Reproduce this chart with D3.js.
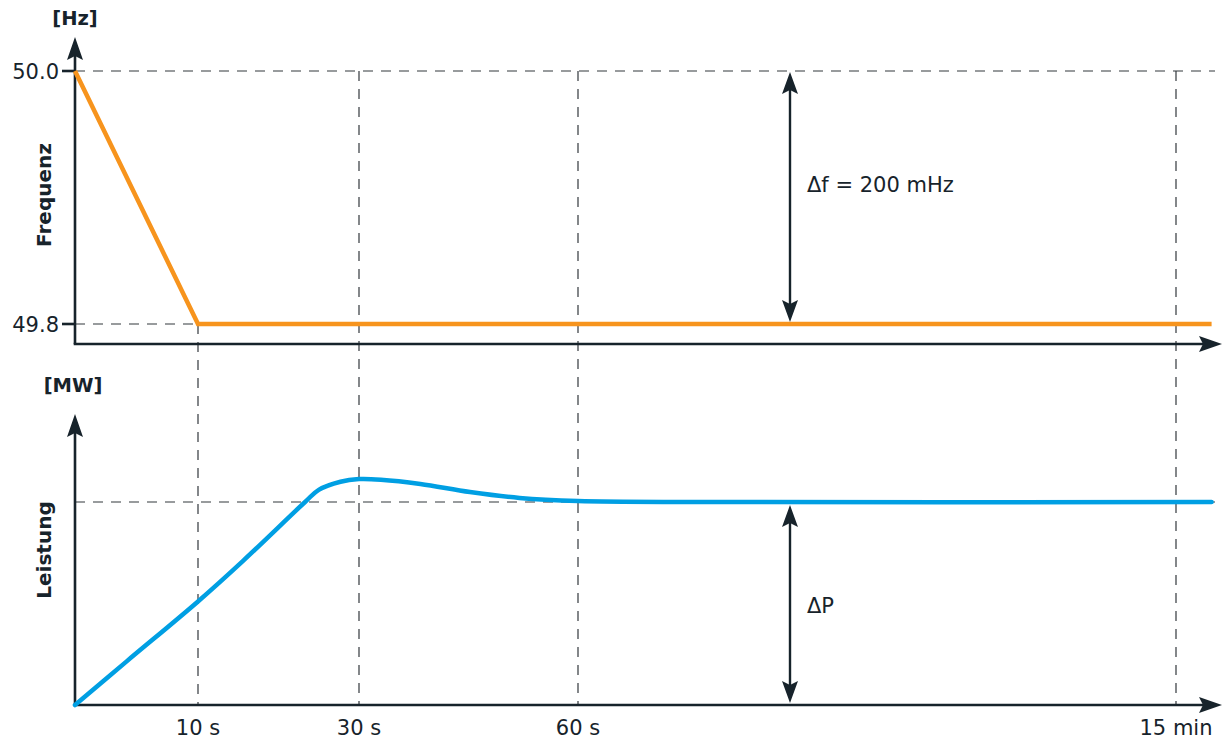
<!DOCTYPE html>
<html><head><meta charset="utf-8">
<script src="https://cdn.jsdelivr.net/npm/d3@7"></script>
<style>html,body{margin:0;padding:0;background:#fff;}svg{display:block;}</style>
</head><body>
<svg id="chart" width="1223" height="742"></svg>
<script>
// ---- data ----
const timeTicks = [10, 30, 60, 900];            // seconds
const timeTickLabels = ["10 s", "30 s", "60 s", "15 min"];
const freqTicks = [50.0, 49.8];
const freqTickLabels = ["50.0", "49.8"];
const freqTime = [0, 10, 950];
const freqValues = [50.0, 49.8, 49.8];
const powerTime = [0, 4.2, 10, 15.6, 23.3, 25, 27.7, 30, 33, 38.4, 45.2, 52, 60, 231, 950];
const powerValues = [0, 0.215, 0.51, 0.71, 1.0, 1.06, 1.10, 1.113, 1.11, 1.089, 1.049, 1.02, 1.005, 1.0, 1.0];
const deltaFLabel = "\u0394f = 200 mHz";
const deltaPLabel = "\u0394P";

const ORANGE = "#f7941d", BLUE = "#009fe3", DARK = "#17232b", DASH = "#33383d";
const FONT = "DejaVu Sans, Verdana, sans-serif";

const svg = d3.select("#chart");

// piecewise (non-linear) time axis
const x = d3.scaleLinear().domain([0, 10, 30, 60, 900]).range([75, 198, 359, 578, 1176]);
const yF = d3.scaleLinear().domain([49.8, 50.0]).range([324, 71]);
const yP = d3.scaleLinear().domain([0, 1]).range([705, 502]);

const topAxisY = 344, botAxisY = 705, axisX = 75, axisEnd = 1222;

// dashed guide lines
const g = svg.append("g").attr("stroke", DASH).attr("stroke-width", 1.2).attr("stroke-dasharray", "10,8").attr("fill", "none");
g.append("line").attr("x1", axisX).attr("x2", 1215).attr("y1", yF(50.0)).attr("y2", yF(50.0));
g.append("line").attr("x1", axisX).attr("x2", x(10)).attr("y1", yF(49.8)).attr("y2", yF(49.8));
g.append("line").attr("x1", axisX).attr("x2", 1215).attr("y1", yP(1)).attr("y2", yP(1));
timeTicks.forEach(t => {
  const top = t === 10 ? yF(49.8) : yF(50.0);
  g.append("line").attr("x1", x(t)).attr("x2", x(t)).attr("y1", top).attr("y2", botAxisY);
});

// axes
function arrowUp(cx, tipY) {
  svg.append("path").attr("d", `M${cx},${tipY} L${cx-8},${tipY+23} L${cx},${tipY+19} L${cx+8},${tipY+23} Z`).attr("fill", DARK);
}
function arrowRight(tipX, cy) {
  svg.append("path").attr("d", `M${tipX},${cy} L${tipX-23},${cy-8} L${tipX-19},${cy} L${tipX-23},${cy+8} Z`).attr("fill", DARK);
}
const ax = svg.append("g").attr("stroke", DARK).attr("stroke-width", 2.6).attr("fill", "none");
ax.append("line").attr("x1", axisX).attr("x2", axisX).attr("y1", topAxisY).attr("y2", 52);
ax.append("line").attr("x1", axisX - 1.3).attr("x2", axisEnd - 10).attr("y1", topAxisY).attr("y2", topAxisY);
ax.append("line").attr("x1", axisX).attr("x2", axisX).attr("y1", botAxisY).attr("y2", 428);
ax.append("line").attr("x1", axisX - 1.3).attr("x2", axisEnd - 10).attr("y1", botAxisY).attr("y2", botAxisY);
arrowUp(axisX, 37);
arrowUp(axisX, 414);
arrowRight(axisEnd, topAxisY);
arrowRight(axisEnd, botAxisY);

// frequency ticks
freqTicks.forEach((v, i) => {
  ax.append("line").attr("x1", 62).attr("x2", axisX).attr("y1", yF(v)).attr("y2", yF(v));
  svg.append("text").attr("x", 59).attr("y", yF(v)).attr("dy", "0.36em").attr("text-anchor", "end")
    .attr("font-family", FONT).attr("font-size", 21).attr("fill", DARK).text(freqTickLabels[i]);
});

// time tick labels
timeTicks.forEach((t, i) => {
  svg.append("text").attr("x", x(t)).attr("y", 735).attr("text-anchor", "middle")
    .attr("font-family", FONT).attr("font-size", 21).attr("fill", DARK).text(timeTickLabels[i]);
});

// unit labels and titles
svg.append("text").attr("x", 75).attr("y", 25).attr("text-anchor", "middle").attr("font-family", FONT)
  .attr("font-weight", "bold").attr("font-size", 19.5).attr("fill", DARK).text("[Hz]");
svg.append("text").attr("x", 73).attr("y", 392).attr("text-anchor", "middle").attr("font-family", FONT)
  .attr("font-weight", "bold").attr("font-size", 19.5).attr("fill", DARK).text("[MW]");
svg.append("text").attr("transform", "translate(51,195) rotate(-90)").attr("text-anchor", "middle").attr("font-family", FONT)
  .attr("font-weight", "bold").attr("font-size", 20).attr("fill", DARK).text("Frequenz");
svg.append("text").attr("transform", "translate(51,550) rotate(-90)").attr("text-anchor", "middle").attr("font-family", FONT)
  .attr("font-weight", "bold").attr("font-size", 20).attr("fill", DARK).text("Leistung");

// series
svg.append("path").datum(freqTime.map((t, i) => [t, freqValues[i]]))
  .attr("d", d3.line().x(d => x(d[0])).y(d => yF(d[1])))
  .attr("fill", "none").attr("stroke", ORANGE).attr("stroke-width", 4.5).attr("stroke-linejoin", "miter");
svg.append("path").datum(powerTime.map((t, i) => [t, powerValues[i]]))
  .attr("d", d3.line().x(d => x(d[0])).y(d => yP(d[1])).curve(d3.curveCatmullRom.alpha(0.5)))
  .attr("fill", "none").attr("stroke", BLUE).attr("stroke-width", 4.5).attr("stroke-linecap", "round");

// double arrows
function doubleArrow(cx, y1, y2) {
  svg.append("line").attr("x1", cx).attr("x2", cx).attr("y1", y1 + 15).attr("y2", y2 - 15).attr("stroke", DARK).attr("stroke-width", 2.4);
  svg.append("path").attr("d", `M${cx},${y1} L${cx-8},${y1+22} L${cx},${y1+18} L${cx+8},${y1+22} Z`).attr("fill", DARK);
  svg.append("path").attr("d", `M${cx},${y2} L${cx-8},${y2-22} L${cx},${y2-18} L${cx+8},${y2-22} Z`).attr("fill", DARK);
}
doubleArrow(790, yF(50.0) + 1, yF(49.8) - 2);
doubleArrow(790, yP(1) + 3, yP(0) - 2);
svg.append("text").attr("x", 807).attr("y", yF(49.9) - 13).attr("dy", "0.36em").attr("font-family", FONT)
  .attr("font-size", 21).attr("fill", DARK).text(deltaFLabel);
svg.append("text").attr("x", 807).attr("y", 605).attr("dy", "0.36em").attr("font-family", FONT)
  .attr("font-size", 21).attr("fill", DARK).text(deltaPLabel);
</script>
</body></html>
